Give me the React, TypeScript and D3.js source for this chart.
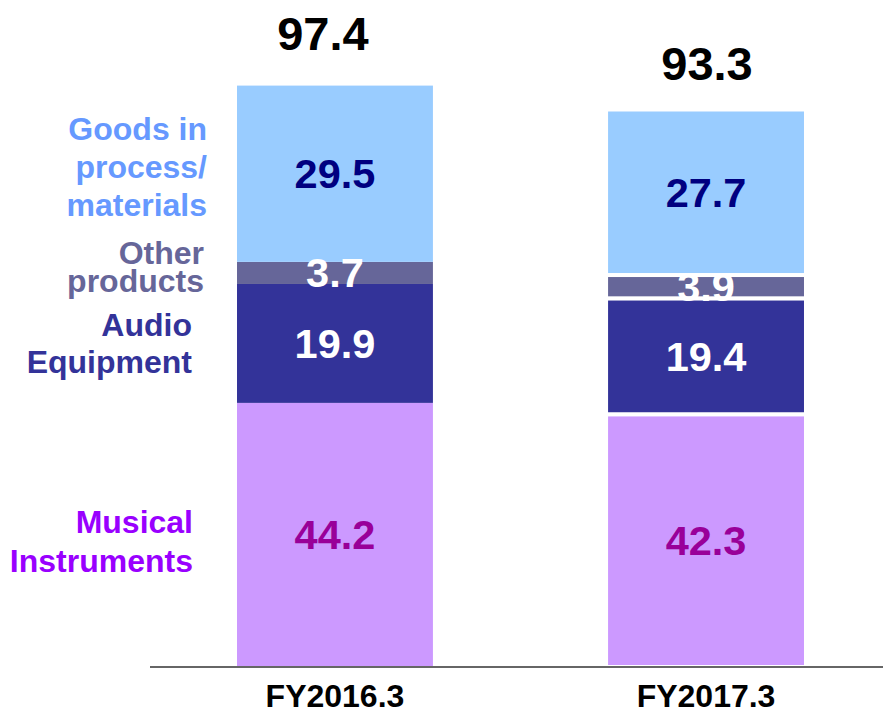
import React from "react";
import * as d3 from "d3";

const periods = ["FY2016.3", "FY2017.3"];
const segmentKeys = ["musical", "audio", "other", "goods"];
const segmentNames = ["Musical Instruments", "Audio Equipment", "Other products", "Goods in process/ materials"];
const musical = [44.2, 42.3];
const audio = [19.9, 19.4];
const other = [3.7, 3.9];
const goods = [29.5, 27.7];
const totals = [97.4, 93.3];

const fills: Record<string, string> = {
  musical: "#cc99ff",
  audio: "#333399",
  other: "#666699",
  goods: "#99ccff",
};
const valueColors: Record<string, string> = {
  musical: "#990099",
  audio: "#ffffff",
  other: "#ffffff",
  goods: "#000080",
};
const legendColors: Record<string, string> = {
  musical: "#9900ff",
  audio: "#333399",
  other: "#666699",
  goods: "#6699ff",
};
const legendLines: Record<string, string[]> = {
  goods: ["Goods in", "process/", "materials"],
  other: ["Other", "products"],
  audio: ["Audio", "Equipment"],
  musical: ["Musical", "Instruments"],
};
const legendLayout: Record<string, { x: number; y: number; lh: number }> = {
  goods: { x: 207, y: 140, lh: 38 },
  other: { x: 204, y: 264, lh: 28 },
  audio: { x: 192, y: 336, lh: 37 },
  musical: { x: 193, y: 533, lh: 39 },
};

const W = 883;
const H = 714;
const FONT = "'Liberation Sans', Arial, Helvetica, sans-serif";

export default function App() {
  const data = periods.map((p, i) => ({
    period: p,
    musical: musical[i],
    audio: audio[i],
    other: other[i],
    goods: goods[i],
  }));
  const stack = d3.stack<any>().keys(segmentKeys)(data);

  const x = d3
    .scaleBand<string>()
    .domain(periods)
    .range([150, 891])
    .paddingInner(0.472)
    .paddingOuter(0.2345);
  const y = d3.scaleLinear().domain([0, 97.4]).range([667, 85]);

  const bw = x.bandwidth();
  const totalDx = [-12, 1];
  const totalBaseline = [50, 80];

  return (
    <div style={{ position: "absolute", left: 0, top: 0 }}>
      <svg width={W} height={H} style={{ display: "block", fontFamily: FONT }}>
        <rect x={0} y={0} width={W} height={H} fill="#ffffff" />
        {stack.map((layer) => (
          <g key={layer.key}>
            {layer.map((d, i) => {
              const x0 = x(periods[i])!;
              const second = i === 1;
              const y0 = y(d[1]);
              const y1 = y(d[0]);
              return (
                <rect
                  key={i}
                  x={second ? x0 - 2 : x0}
                  y={y0}
                  width={second ? bw + 4 : bw}
                  height={y1 - y0}
                  fill={fills[layer.key]}
                  stroke={second ? "#ffffff" : "none"}
                  strokeWidth={second ? 4 : 0}
                />
              );
            })}
          </g>
        ))}
        {stack.map((layer) => (
          <g key={layer.key + "-lbl"}>
            {layer.map((d, i) => {
              const cx = x(periods[i])! + bw / 2;
              const cy = (y(d[0]) + y(d[1])) / 2;
              return (
                <text
                  key={i}
                  x={cx}
                  y={cy + 14.5}
                  textAnchor="middle"
                  fontSize={41.5}
                  fontWeight="bold"
                  fill={valueColors[layer.key]}
                >
                  {(d[1] - d[0]).toFixed(1)}
                </text>
              );
            })}
          </g>
        ))}
        {totals.map((t, i) => (
          <text
            key={"tot" + i}
            x={x(periods[i])! + bw / 2 + totalDx[i]}
            y={totalBaseline[i]}
            textAnchor="middle"
            fontSize={47}
            fontWeight="bold"
            fill="#000000"
          >
            {t.toFixed(1)}
          </text>
        ))}
        <line x1={150} x2={W} y1={y(0)} y2={y(0)} stroke="#666666" strokeWidth={2} />
        {periods.map((p) => (
          <text
            key={p}
            x={x(p)! + bw / 2}
            y={707}
            textAnchor="middle"
            fontSize={32}
            fontWeight="bold"
            fill="#000000"
          >
            {p}
          </text>
        ))}
        {segmentKeys.map((k, idx) => {
          const L = legendLayout[k];
          return (
            <text
              key={"leg" + k}
              textAnchor="end"
              fontSize={32}
              fontWeight="bold"
              fill={legendColors[k]}
              aria-label={segmentNames[idx]}
            >
              {legendLines[k].map((line, j) => (
                <tspan key={j} x={L.x} y={L.y + j * L.lh}>
                  {line}
                </tspan>
              ))}
            </text>
          );
        })}
      </svg>
    </div>
  );
}
